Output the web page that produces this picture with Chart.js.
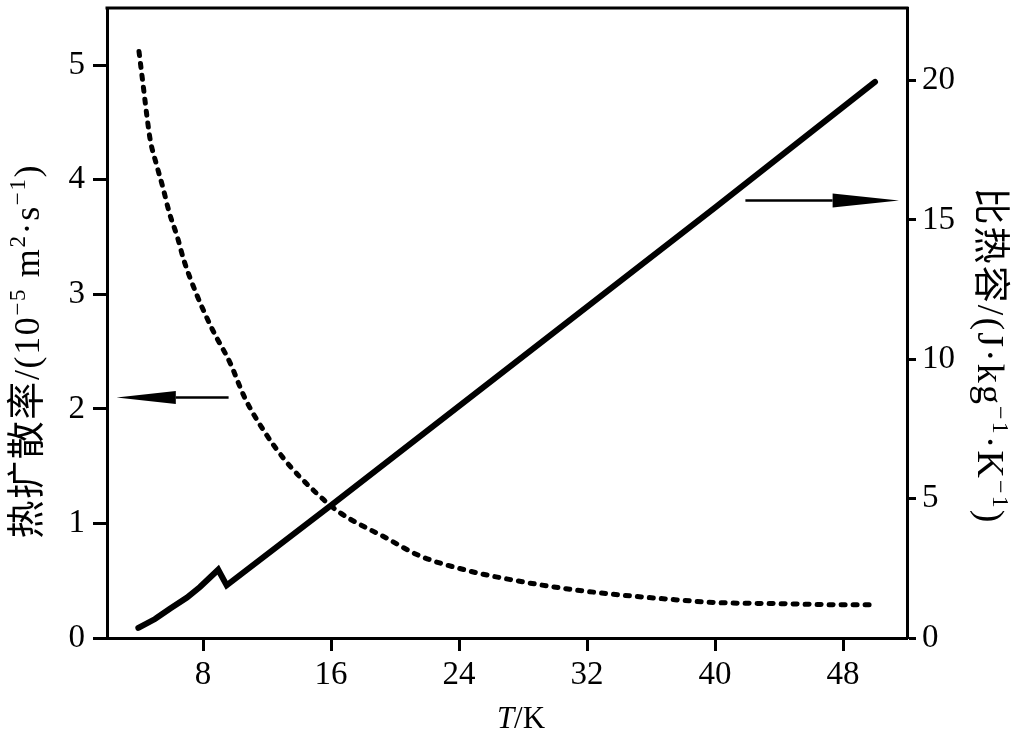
<!DOCTYPE html>
<html>
<head>
<meta charset="utf-8">
<script src="https://cdn.jsdelivr.net/npm/chart.js@4.4.1/dist/chart.umd.min.js"></script>
<style>
  html, body { margin: 0; padding: 0; background: #fff; }
  #wrap { width: 1017px; height: 736px; }
</style>
</head>
<body>
<div id="wrap"><canvas id="c" width="1017" height="736"></canvas></div>
<script>
// ---- data ----
const diffTemps = [4.0, 4.3, 4.5, 4.7, 5.1, 5.5, 5.9, 6.4, 6.8, 7.6, 8.6, 9.7, 10.6, 11.8, 13.2, 14.9, 16.5, 19.5, 21.5, 24.5, 27.6, 30.7, 33.8, 37.0, 40.0, 44.0, 48.0, 49.8];
const diffusivity = [5.12, 4.78, 4.55, 4.35, 4.13, 3.93, 3.71, 3.50, 3.30, 3.00, 2.69, 2.40, 2.10, 1.81, 1.54, 1.29, 1.10, 0.87, 0.72, 0.59, 0.50, 0.43, 0.38, 0.34, 0.31, 0.30, 0.29, 0.29];
const cpTemps = [3.96, 5.0, 5.93, 7.0, 7.81, 8.95, 9.48, 16.0, 24.0, 32.0, 40.0, 50.0];
const specificHeat = [0.36, 0.68, 1.05, 1.45, 1.83, 2.45, 1.89, 4.76, 8.32, 11.88, 15.44, 19.95];
const xTicks = [8, 16, 24, 32, 40, 48];
const yLeftTicks = [0, 1, 2, 3, 4, 5];
const yRightTicks = [0, 5, 10, 15, 20];

const SERIF = "'Liberation Serif', 'DejaVu Serif', serif";
const CJK = "'Noto Sans CJK SC', 'Noto Sans', sans-serif";

function pts(xs, ys) { return xs.map((x, i) => ({ x: x, y: ys[i] })); }

function drawRuns(ctx, runs, cx, cy, angle, target) {
  const chars = [];
  runs.forEach(r => {
    for (const ch of Array.from(r.t)) {
      chars.push({ ch, size: r.size, fam: r.fam, raise: r.raise || 0, italic: r.italic });
    }
  });
  let W = 0;
  chars.forEach(c => {
    ctx.font = (c.italic ? 'italic ' : '') + c.size + 'px ' + c.fam;
    c.w = ctx.measureText(c.ch).width;
    W += c.w;
  });
  const extra = target ? Math.max(0, (target - W) / (chars.length - 1)) : 0;
  const total = W + extra * (chars.length - 1);
  ctx.save();
  ctx.translate(cx, cy);
  ctx.rotate(angle);
  ctx.fillStyle = '#000';
  ctx.textBaseline = 'alphabetic';
  ctx.textAlign = 'left';
  let x = -total / 2;
  const base = 12;
  chars.forEach(c => {
    ctx.font = (c.italic ? 'italic ' : '') + c.size + 'px ' + c.fam;
    ctx.fillText(c.ch, x, base - c.raise);
    x += c.w + extra;
  });
  ctx.restore();
}

function arrow(ctx, xTail, xBase, xTip, y, half) {
  ctx.save();
  ctx.strokeStyle = '#000';
  ctx.fillStyle = '#000';
  ctx.lineWidth = 2.5;
  ctx.beginPath();
  ctx.moveTo(xTail, y);
  ctx.lineTo(xBase, y);
  ctx.stroke();
  ctx.beginPath();
  ctx.moveTo(xTip, y);
  ctx.lineTo(xBase, y - half);
  ctx.lineTo(xBase, y + half);
  ctx.closePath();
  ctx.fill();
  ctx.restore();
}

const decor = {
  id: 'decor',
  afterDraw(chart) {
    const ctx = chart.ctx;
    const a = chart.chartArea;
    const sx = chart.scales.x, sy = chart.scales.y, sy1 = chart.scales.y1;
    ctx.save();
    ctx.strokeStyle = '#000';
    ctx.lineWidth = 3;
    ctx.beginPath();
    ctx.moveTo(a.left - 1.5, a.top);
    ctx.lineTo(a.right + 1.5, a.top);
    ctx.stroke();
    ctx.restore();
    const yl = sy.getPixelForValue(2.1);
    arrow(ctx, sx.getPixelForValue(9.6), sx.getPixelForValue(6.3), sx.getPixelForValue(2.6), yl, 6.5);
    const yr = sy1.getPixelForValue(15.69);
    arrow(ctx, sx.getPixelForValue(41.9), sx.getPixelForValue(47.35), sx.getPixelForValue(51.5), yr, 7);
    drawRuns(ctx, [
      { t: '热扩散率', size: 38, fam: CJK },
      { t: '/(10', size: 36, fam: SERIF },
      { t: '\u22125', size: 23, fam: SERIF, raise: 14 },
      { t: ' m', size: 36, fam: SERIF },
      { t: '2', size: 23, fam: SERIF, raise: 14 },
      { t: '\u00B7s', size: 36, fam: SERIF },
      { t: '\u22121', size: 23, fam: SERIF, raise: 14 },
      { t: ')', size: 36, fam: SERIF }
    ], 27, 352, -Math.PI / 2, 373);
    drawRuns(ctx, [
      { t: '比热容', size: 37, fam: CJK },
      { t: '/(J\u00B7kg', size: 38, fam: SERIF },
      { t: '\u22121', size: 24, fam: SERIF, raise: 15 },
      { t: '\u00B7K', size: 38, fam: SERIF },
      { t: '\u22121', size: 24, fam: SERIF, raise: 15 },
      { t: ')', size: 38, fam: SERIF }
    ], 990, 355, Math.PI / 2, 335);
    ctx.save();
    ctx.fillStyle = '#000';
    ctx.textBaseline = 'alphabetic';
    ctx.font = 'italic 31px ' + SERIF;
    const wT = ctx.measureText('T').width;
    ctx.font = '31px ' + SERIF;
    const wR = ctx.measureText('/K').width;
    const x0 = 521 - (wT + wR) / 2;
    ctx.font = 'italic 31px ' + SERIF;
    ctx.fillText('T', x0, 728);
    ctx.font = '31px ' + SERIF;
    ctx.fillText('/K', x0 + wT, 728);
    ctx.restore();
  }
};

const tickFont = { family: SERIF, size: 33 };
function zeroPad(s) { s.paddingTop = 0; s.paddingBottom = 0; }

new Chart(document.getElementById('c'), {
  type: 'line',
  data: {
    datasets: [
      {
        label: '热扩散率',
        data: pts(diffTemps, diffusivity),
        yAxisID: 'y',
        borderColor: '#000',
        borderWidth: 5,
        borderDash: [4, 8],
        borderCapStyle: 'round',
        pointRadius: 0,
        cubicInterpolationMode: 'monotone',
        fill: false
      },
      {
        label: '比热容',
        data: pts(cpTemps, specificHeat),
        yAxisID: 'y1',
        borderColor: '#000',
        borderWidth: 6,
        borderCapStyle: 'round',
        borderJoinStyle: 'miter',
        pointRadius: 0,
        tension: 0,
        fill: false
      }
    ]
  },
  options: {
    responsive: false,
    animation: false,
    devicePixelRatio: 1,
    layout: { padding: { top: 8, left: 0, right: 0, bottom: 0 } },
    plugins: { legend: { display: false }, tooltip: { enabled: false } },
    scales: {
      x: {
        type: 'linear',
        position: 'bottom',
        min: 2, max: 52,
        afterBuildTicks: s => { s.ticks = xTicks.map(v => ({ value: v })); },
        afterFit: s => { s.height = 98; s.paddingLeft = 0; s.paddingRight = 0; },
        ticks: { font: tickFont, color: '#000', padding: 5, maxRotation: 0 },
        grid: { drawOnChartArea: false, drawTicks: true, tickLength: 13, tickWidth: 3, tickColor: '#000' },
        border: { display: true, color: '#000', width: 3 }
      },
      y: {
        type: 'linear',
        position: 'left',
        min: 0, max: 5.5,
        afterBuildTicks: s => { s.ticks = yLeftTicks.map(v => ({ value: v })); },
        afterFit: s => { s.width = 107; zeroPad(s); },
        ticks: { font: tickFont, color: '#000', padding: 8 },
        grid: { drawOnChartArea: false, drawTicks: true, tickLength: 14, tickWidth: 3, tickColor: '#000' },
        border: { display: true, color: '#000', width: 3 }
      },
      y1: {
        type: 'linear',
        position: 'right',
        min: 0, max: 22.6,
        afterBuildTicks: s => { s.ticks = yRightTicks.map(v => ({ value: v })); },
        afterFit: s => { s.width = 110; zeroPad(s); },
        ticks: { font: tickFont, color: '#000', padding: 6 },
        grid: { drawOnChartArea: false, drawTicks: true, tickLength: 9, tickWidth: 3, tickColor: '#000' },
        border: { display: true, color: '#000', width: 3 }
      }
    }
  },
  plugins: [decor]
});
</script>
</body>
</html>
